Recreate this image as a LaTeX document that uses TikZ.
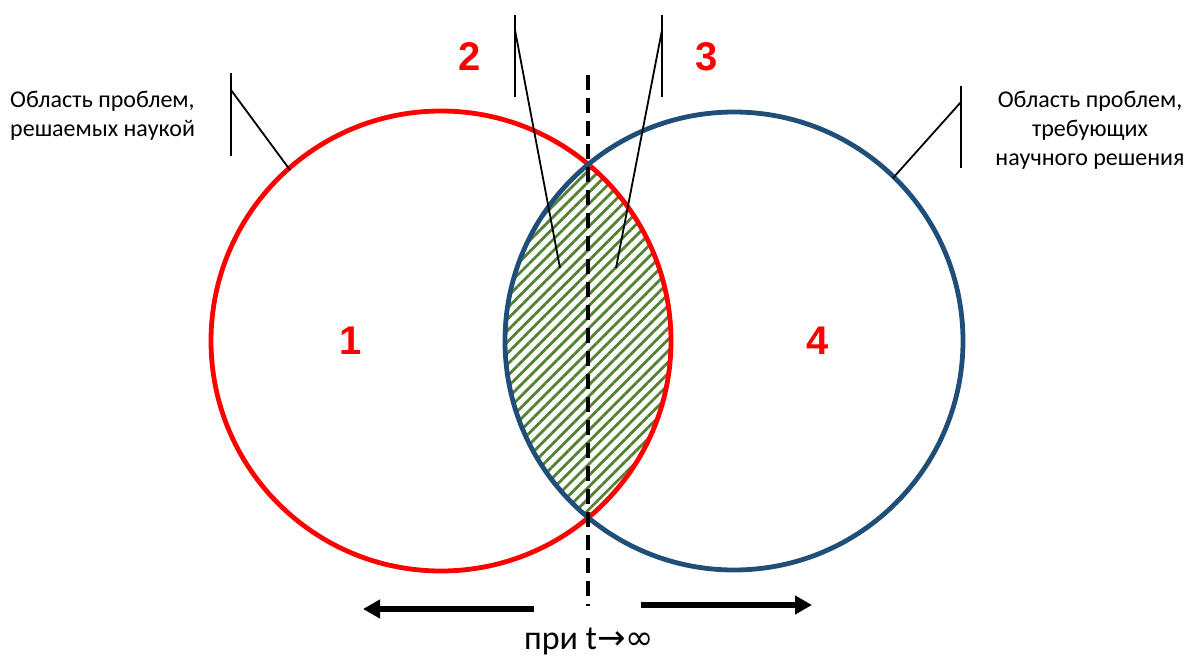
\documentclass[tikz,border=0pt]{standalone}
\usepackage{fontspec}
\setmainfont{Carlito}
\newfontfamily\numfont{Liberation Sans}
\newfontfamily\symfont{DejaVu Sans}
\usetikzlibrary{patterns.meta,arrows.meta}
\definecolor{cred}{RGB}{255,0,0}
\definecolor{cblue}{RGB}{31,78,121}
\definecolor{cgreen}{RGB}{84,130,53}
\tikzset{
  circ/.style={line width=4.8pt},
  ptr/.style={black, line width=1.8pt},
  num/.style={text=cred, font=\numfont\bfseries\fontsize{40}{40}\selectfont},
  lbl/.style={font=\fontsize{24}{29}\selectfont, inner sep=0pt},
  bigarrow/.style={line width=6pt, -{Triangle[length=17pt,width=18pt]}},
}
\begin{document}
\begin{tikzpicture}[x=1pt,y=-1pt]
\useasboundingbox (0,0) rectangle (1187,657);
\coordinate (cL) at (441,341);
\coordinate (cR) at (734,341);
% lens hatch
\begin{scope}
  \clip (cL) circle[radius=230pt];
  \fill[pattern={Lines[angle=45,distance=8pt,line width=2.8pt]}, pattern color=cgreen] (cR) circle[radius=229pt];
\end{scope}
\draw[circ, cred] (cL) circle[radius=230pt];
\draw[circ, cblue] (cR) circle[radius=229pt];
% dashed line
\coordinate (dTop) at (588,75);
\coordinate (dBot) at (588,606);
\draw[line width=3.2pt, dash pattern=on 15pt off 8pt] (dTop) -- (dBot);
% numbers
\node[num] (n1) at (351,341) {1};
\node[num] (n2) at (470,57) {2};
\node[num] (n3) at (707,57) {3};
\node[num] (n4) at (818,341) {4};
% left label
\node[lbl, align=left, anchor=west] (tl) at (10,116) {Область проблем,\\решаемых наукой};
\coordinate (lv1) at (231,73); \coordinate (lv2) at (231,156);
\coordinate (lk) at (231,90); \coordinate (lp) at (290,170);
\draw[ptr] (lv1) -- (lv2);
\draw[ptr] (lk) -- (lp);
% right label
\node[lbl, align=center] (tr) at (1090,130) {Область проблем,\\требующих\\научного решения};
\coordinate (rv1) at (961,86); \coordinate (rv2) at (961,168);
\coordinate (rk) at (961,102); \coordinate (rp) at (893,178);
\draw[ptr] (rv1) -- (rv2);
\draw[ptr] (rk) -- (rp);
% pointer 2
\coordinate (av1) at (515,15); \coordinate (av2) at (515,97);
\coordinate (ak) at (515,30); \coordinate (ap) at (560,268);
\draw[ptr] (av1) -- (av2);
\draw[ptr] (ak) -- (ap);
% pointer 3
\coordinate (bv1) at (662,15); \coordinate (bv2) at (662,97);
\coordinate (bk) at (662,30); \coordinate (bp) at (616,268);
\draw[ptr] (bv1) -- (bv2);
\draw[ptr] (bk) -- (bp);
% arrows
\coordinate (la1) at (534,609); \coordinate (la2) at (363,609);
\coordinate (ra1) at (641,605); \coordinate (ra2) at (812,605);
\draw[bigarrow] (la1) -- (la2);
\draw[bigarrow] (ra1) -- (ra2);
\node[font=\fontsize{34}{34}\selectfont, inner sep=0pt] (tinf) at (589,641) {при t{\symfont\fontsize{34}{34}\selectfont →∞}};
\end{tikzpicture}
\end{document}
